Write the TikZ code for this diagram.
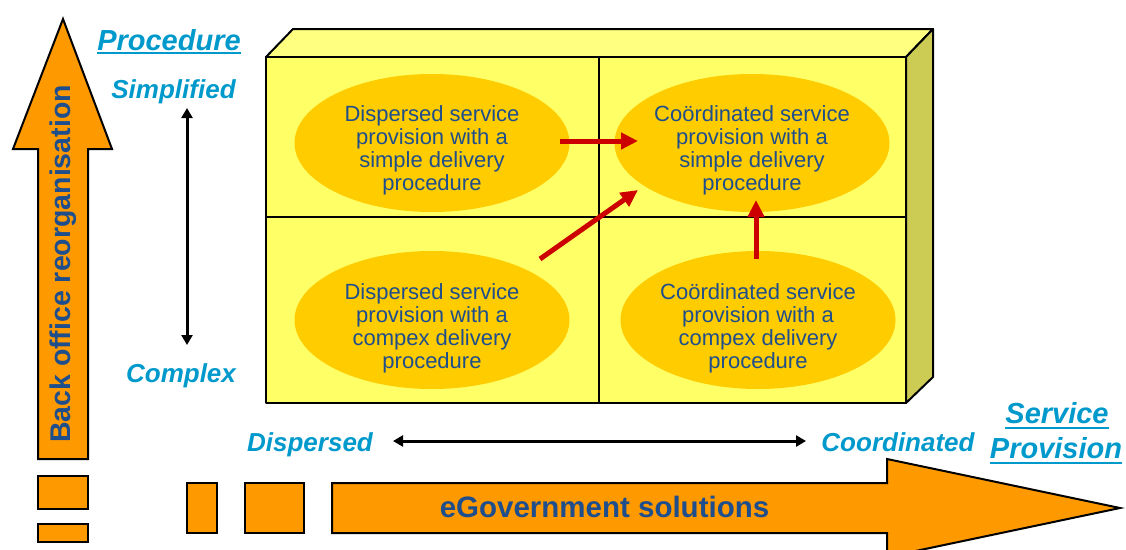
\documentclass[tikz,border=0pt]{standalone}
\usepackage{fontspec}
\setmainfont{Liberation Sans}
\usepackage{xcolor}
\usepackage{tikz}
\usetikzlibrary{shapes.geometric,arrows.meta}

\definecolor{boxfront}{HTML}{FFFF66}
\definecolor{boxtop}{HTML}{FFFF80}
\definecolor{boxside}{HTML}{CCCC55}
\definecolor{blobfill}{HTML}{FFCC00}
\definecolor{bigarrow}{HTML}{FF9900}
\definecolor{navytext}{HTML}{1F4E8C}
\definecolor{axistext}{HTML}{0099CC}
\definecolor{moveline}{HTML}{CC0000}

\begin{document}
\begin{tikzpicture}[x=1pt,y=-1pt,
	blob/.style={shape=ellipse,draw=none,fill=blobfill,minimum width=275pt,minimum height=138pt,inner sep=0pt},
	blobtext/.style={align=center,text=navytext,inner sep=0pt,font=\fontsize{22}{23}\selectfont},
	axislabel/.style={anchor=base,inner sep=0pt,text=axistext,font=\fontsize{26}{28}\selectfont\bfseries\itshape},
	axistitle/.style={axislabel,font=\fontsize{29}{31}\selectfont\bfseries\itshape},
	axisline/.style={draw=axistext,line width=2.5pt},
	orangepart/.style={draw=black,line width=2pt,fill=bigarrow,line join=miter},
	boxpart/.style={draw=black,line width=2pt,line join=round},
	move/.style={draw=moveline,line width=5pt,-{Triangle[length=17pt,width=16pt]}},
	spanarrow/.style={line width=3pt,{Triangle[length=10pt,width=11pt]}-{Triangle[length=10pt,width=11pt]}}]
	\useasboundingbox (0,0) rectangle (1126,549);
	% block
	\draw[boxpart,fill=boxtop] (266,57) -- (293,29) -- (933,29) -- (906,57) -- cycle;
	\draw[boxpart,fill=boxside] (906,57) -- (933,29) -- (933,377) -- (906,403) -- cycle;
	\draw[boxpart,fill=boxfront] (266,57) rectangle (906,403);
	\draw[boxpart] (599,57) -- (599,403);
	\draw[boxpart] (266,217) -- (906,217);
	% quadrants
	\node (dsimple) at(432,143)[blob]{};
	\node (csimple) at(752,143)[blob]{};
	\node (dcomplex) at(432,320)[blob]{};
	\node (ccomplex) at(758,320)[blob]{};
	\node (dsimpletext) at([yshift=-7pt]dsimple.center)[blobtext]{Dispersed service\\provision with a\\simple delivery\\procedure};
	\node (csimpletext) at([yshift=-7pt]csimple.center)[blobtext]{Coördinated service\\provision with a\\simple delivery\\procedure};
	\node (dcomplextext) at([yshift=-8pt]dcomplex.center)[blobtext]{Dispersed service\\provision with a\\compex delivery\\procedure};
	\node (ccomplextext) at([yshift=-8pt]ccomplex.center)[blobtext]{Coördinated service\\provision with a\\compex delivery\\procedure};
	\coordinate (m1s) at(560,141);
	\coordinate (m1e) at(638,141);
	\coordinate (m2s) at(540,259);
	\coordinate (m2e) at(638,190);
	\coordinate (m3s) at(756,259);
	\coordinate (m3e) at(756,200);
	\draw[move] (m1s) -- (m1e);
	\draw[move] (m2s) -- (m2e);
	\draw[move] (m3s) -- (m3e);
	% big arrows
	\draw[orangepart] (38,459) -- (38,149) -- (13,149) -- (63,19) -- (112,149) -- (88,149) -- (88,459) -- cycle;
	\node (backoffice) at(63,264)[rotate=90,inner sep=0pt,text=navytext,font=\fontsize{28.5}{30}\selectfont\bfseries]{Back office reorganisation};
	\draw[orangepart] (38,476) rectangle (88,509);
	\draw[orangepart] (38,524) rectangle (88,542);
	\draw[orangepart] (187,483) rectangle (217,533);
	\draw[orangepart] (245,483) rectangle (304,533);
	\draw[orangepart] (332,483) -- (887,483) -- (887,459) -- (1120,508) -- (887,557) -- (887,533) -- (332,533) -- cycle;
	\node (egov) at(604.5,517)[anchor=base,inner sep=0pt,text=navytext,font=\fontsize{29.5}{32}\selectfont\bfseries]{eGovernment solutions};
	% axes
	\node (procedure) at(169,50)[axistitle]{Procedure};
	\draw[axisline] ([yshift=-3pt]procedure.base west) -- ([yshift=-3pt]procedure.base east);
	\node (simplified) at(173.5,98)[axislabel]{Simplified};
	\node (complex) at(181,382)[axislabel]{Complex};
	\coordinate (ptop) at(187,108);
	\coordinate (pbot) at(187,345);
	\draw[spanarrow] (ptop) -- (pbot);
	\node (dispersed) at(310,451)[axislabel]{Dispersed};
	\node (coordinated) at(898,451)[axislabel]{Coordinated};
	\coordinate (sleft) at(393,441);
	\coordinate (sright) at(806,441);
	\draw[spanarrow] (sleft) -- (sright);
	\node (service) at(1057,423)[axistitle]{Service};
	\draw[axisline] ([yshift=-5pt]service.base west) -- ([yshift=-5pt]service.base east);
	\node (provision) at(1056,458)[axistitle]{Provision};
	\draw[axisline] ([yshift=-5pt]provision.base west) -- ([yshift=-5pt]provision.base east);
\end{tikzpicture}
\end{document}
